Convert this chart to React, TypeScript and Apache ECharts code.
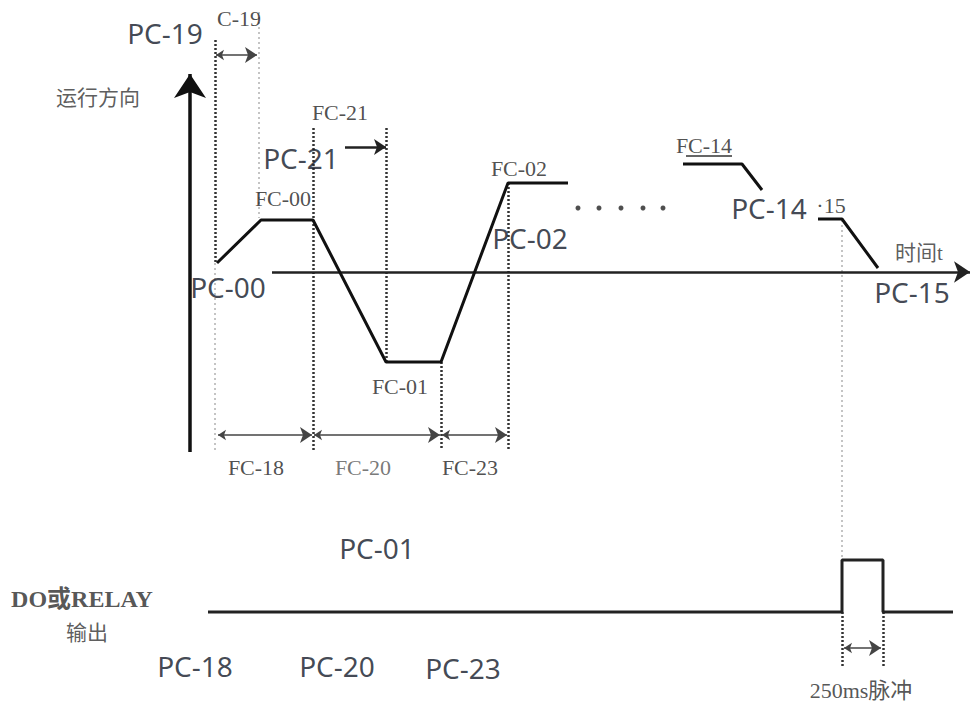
import React, { useEffect, useRef } from "react";
import * as echarts from "echarts";

// Diagram coordinate space: x 0..970 (time), y 0..704 (downwards)
const waveT = [217, 261, 313, 386, 441, 508, 568];
const waveV = [263, 220, 220, 362, 362, 183, 183];

const accelT = [683, 742, 762];
const accelV = [164, 164, 190];
const stopT = [818, 842, 878];
const stopV = [219, 219, 268];

const doT = [208, 842, 842, 883, 883, 953];
const doV = [612, 612, 560, 560, 612, 612];

const ellipsisT = [578, 599, 621, 643, 663];
const ellipsisV = [208, 208, 208, 208, 208];

// [x1, y1, x2, y2]
const darkDotted = [
  [215, 40, 215, 263],
  [313, 128, 313, 450],
  [386, 128, 386, 362],
  [441, 362, 441, 450],
  [508, 183, 508, 450],
  [842, 612, 842, 668],
  [883, 612, 883, 668],
];
const lightDotted = [
  [215, 263, 215, 452],
  [259, 12, 259, 218],
  [842, 220, 842, 560],
];
const doubleArrows = [
  [216, 55, 257, 55],
  [218, 435, 312, 435],
  [314, 435, 440, 435],
  [442, 435, 507, 435],
  [844, 648, 881, 648],
];
const singleArrows = [[345, 147, 386, 147]];
const axisV = [190, 452, 190, 74];
const axisT = [272, 272, 970, 272];
const underline = [[686, 156, 732, 156]];

type Lbl = [string, number, number, string];
// text, x, y, style
const labels: Lbl[] = [
  ["PC-19", 165, 33, "pc"],
  ["C-19", 239, 18, "fc"],
  ["运行方向", 98, 98, "cn"],
  ["FC-21", 340, 112, "fc"],
  ["PC-21", 301, 158, "pc"],
  ["FC-00", 283, 198, "fc"],
  ["PC-00", 228, 287, "pc"],
  ["FC-01", 400, 386, "fc"],
  ["FC-02", 519, 168, "fc"],
  ["PC-02", 530, 238, "pc"],
  ["FC-14", 704, 145, "fc"],
  ["PC-14", 769, 208, "pc"],
  ["·15", 831, 205, "fc"],
  ["时间t", 919, 253, "cn"],
  ["PC-15", 912, 292, "pc"],
  ["FC-18", 256, 467, "fc"],
  ["FC-20", 363, 467, "fcg"],
  ["FC-23", 470, 467, "fc"],
  ["PC-01", 377, 548, "pc"],
  ["DO或RELAY", 82, 599, "do"],
  ["输出", 87, 633, "cn"],
  ["PC-18", 195, 666, "pc"],
  ["PC-20", 337, 666, "pc"],
  ["PC-23", 463, 668, "pc"],
  ["250ms脉冲", 861, 690, "do2"],
];

const styles: Record<string, any> = {
  pc: { fontFamily: "Noto Sans", fontSize: 28, color: "#111827" },
  fc: { fontFamily: "Liberation Serif", fontSize: 22, color: "#222" },
  fcg: { fontFamily: "Liberation Serif", fontSize: 22, color: "#555" },
  cn: { fontFamily: "Liberation Serif, Noto Sans CJK SC", fontSize: 21, color: "#333" },
  do: { fontFamily: "Liberation Serif, Noto Sans CJK SC", fontSize: 24, color: "#2a2a2a", fontWeight: "bold" },
  do2: { fontFamily: "Liberation Serif, Noto Sans CJK SC", fontSize: 22, color: "#2a2a2a" },
};

const seg = (a: number[]) => ({ coords: [[a[0], a[1]], [a[2], a[3]]] });
const pts = (xs: number[], ys: number[]) => xs.map((x, i) => [x, ys[i]]);

export default function App() {
  const ref = useRef<HTMLDivElement>(null);
  useEffect(() => {
    document.body.style.margin = "0";
    const chart = echarts.init(ref.current!, null, { renderer: "svg" });
    const line = (data: number[][], color: string, width: number) => ({
      type: "line",
      data,
      symbol: "none",
      silent: true,
      lineStyle: { color, width },
    });
    const lines = (data: number[][], color: string, width: number, type: any, symbol: any, symbolSize: any) => ({
      type: "lines",
      coordinateSystem: "cartesian2d",
      data: data.map(seg),
      symbol,
      symbolSize,
      silent: true,
      lineStyle: { color, width, type, opacity: 1 },
    });
    chart.setOption({
      animation: false,
      backgroundColor: "#fff",
      grid: { left: 0, right: 0, top: 0, bottom: 0 },
      xAxis: { type: "value", min: 0, max: 970, show: false },
      yAxis: { type: "value", min: 0, max: 704, inverse: true, show: false },
      series: [
        lines(lightDotted, "#c4c4c4", 2, [2, 3], "none", 0),
        lines(darkDotted, "#333", 2.5, [2, 2], "none", 0),
        lines([axisV], "#111", 3.5, "solid", ["none", "arrow"], [18, 24]),
        lines([axisT], "#222", 2.5, "solid", ["none", "arrow"], [12, 16]),
        lines(doubleArrows, "#444", 1.5, "solid", ["arrow", "arrow"], [8, 12]),
        lines(singleArrows, "#222", 2.5, "solid", ["none", "arrow"], [8, 12]),
        lines(underline, "#333", 1.5, "solid", "none", 0),
        line(pts(waveT, waveV), "#111", 3),
        line(pts(accelT, accelV), "#111", 3),
        line(pts(stopT, stopV), "#111", 3),
        line(pts(doT, doV), "#222", 3),
        {
          type: "scatter",
          data: pts(ellipsisT, ellipsisV),
          symbolSize: 5,
          itemStyle: { color: "#222" },
          silent: true,
        },
        {
          type: "scatter",
          silent: true,
          symbolSize: 1,
          itemStyle: { color: "rgba(0,0,0,0)" },
          data: labels.map(([t, x, y, s]) => ({
            value: [x, y],
            label: {
              show: true,
              formatter: t,
              position: "inside",
              align: "center",
              verticalAlign: "middle",
              ...styles[s],
            },
          })),
        },
      ],
    });
    return () => chart.dispose();
  }, []);
  return <div ref={ref} style={{ width: 970, height: 704 }} />;
}
